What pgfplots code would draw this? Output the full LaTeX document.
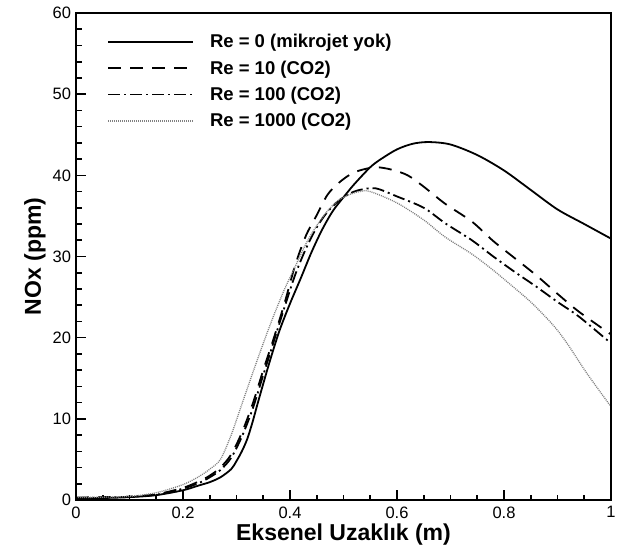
\documentclass[border=0pt]{standalone}
\usepackage{fontspec}
\setmainfont{Liberation Sans}
\usepackage{pgfplots}
\pgfplotsset{compat=1.18}

\begin{document}
\begin{tikzpicture}
\begin{axis}[
    scale only axis,
    width=535pt, height=487pt,
    xmin=0, xmax=1, ymin=0, ymax=60,
    clip=false,
    xtick={0,0.2,0.4,0.6,0.8,1},
    xticklabels={0,0.2,0.4,0.6,0.8,1},
    ytick={0,10,20,30,40,50,60},
    minor x tick num=3,
    minor y tick num=4,
    tick pos=left,
    major tick length=10pt,
    minor tick length=5.5pt,
    tick style={black, line width=1.6pt},
    /pgf/number format/assume math mode=true,
    tick label style={font=\fontsize{16.5}{19}\selectfont},
    xticklabel style={yshift=-3pt},
    yticklabel style={xshift=-1.5pt},
    xlabel={\bfseries Eksenel Uzaklık (m)},
    ylabel={\bfseries NOx (ppm)},
    every axis x label/.style={at={(axis description cs:0.5,0)}, anchor=base, yshift=-40.5pt, font=\fontsize{23}{27}\selectfont},
    ylabel style={font=\fontsize{23}{27}\selectfont},
    legend cell align=left,
    legend image code/.code={\draw[#1] (0pt,0pt) -- (85pt,0pt);},
    legend style={draw=none, fill=none, at={(0,1)}, anchor=north west,
        xshift=31pt, yshift=-20pt, inner sep=0pt,
        font=\bfseries\fontsize{18.5}{22}\selectfont,
        row sep=9.5pt, column sep=15pt, nodes={inner sep=1pt}},
]
% Re = 0
\addplot[black, line width=1.8pt, smooth] coordinates {
(0,0.2) (0.05,0.25) (0.1,0.35) (0.15,0.6) (0.2,1.2) (0.23,1.8) (0.25,2.2)
(0.27,2.8) (0.29,3.8) (0.30,4.8) (0.31,6.0) (0.32,7.5) (0.33,9.6) (0.34,12.0)
(0.36,16.6) (0.38,20.8) (0.40,24.2) (0.42,27.3) (0.44,30.5) (0.46,33.3)
(0.48,35.6) (0.50,37.3) (0.52,38.9) (0.55,41.0) (0.57,42.0) (0.6,43.2) (0.63,43.9)
(0.66,44.1) (0.7,43.8) (0.75,42.5) (0.8,40.6) (0.85,38.2) (0.9,35.8)
(0.95,34.0) (1.0,32.2)
};
% Re = 10
\addplot[black, line width=1.8pt, dash pattern=on 13pt off 9pt, smooth] coordinates {
(0,0.3) (0.05,0.35) (0.1,0.4) (0.15,0.7) (0.2,1.5) (0.23,2.3) (0.25,3.0)
(0.27,4.0) (0.29,5.6) (0.31,8.3) (0.33,11.8) (0.35,16.0) (0.37,20.0)
(0.39,24.3) (0.41,29.0) (0.43,32.6) (0.45,35.1) (0.47,37.6) (0.49,39.0)
(0.51,40.0) (0.53,40.6) (0.56,41.0) (0.59,40.7) (0.62,40.0) (0.65,38.6)
(0.69,36.5) (0.74,34.3) (0.78,31.9) (0.82,29.8) (0.86,27.7) (0.9,25.4)
(0.94,23.2) (1.0,20.4)
};
% Re = 100
\addplot[black, line width=1.8pt, dash pattern=on 12pt off 4pt on 2pt off 4pt, smooth] coordinates {
(0,0.25) (0.05,0.3) (0.1,0.4) (0.15,0.65) (0.2,1.4) (0.23,2.1) (0.25,2.8)
(0.27,3.7) (0.29,5.2) (0.31,7.8) (0.33,11.2) (0.35,15.4) (0.37,19.6)
(0.39,23.8) (0.41,27.8) (0.43,31.0) (0.45,33.6) (0.47,35.5) (0.49,36.8)
(0.51,37.7) (0.53,38.2) (0.56,38.4) (0.6,37.4) (0.65,36.0) (0.69,34.1)
(0.74,32.0) (0.78,30.0) (0.82,28.1) (0.86,26.3) (0.9,24.4) (0.94,22.6)
(1.0,19.3)
};
% Re = 1000
\addplot[gray, line width=1.3pt, dash pattern=on 1pt off 1pt, smooth] coordinates {
(0,0.3) (0.05,0.35) (0.1,0.45) (0.15,0.9) (0.2,1.9) (0.23,2.9) (0.25,3.8)
(0.27,5.0) (0.29,8.0) (0.31,11.8) (0.33,15.6) (0.35,19.3) (0.37,22.8)
(0.39,26.0) (0.41,28.8) (0.43,31.6) (0.45,33.8) (0.47,35.6) (0.49,36.9)
(0.51,37.6) (0.53,38.0) (0.55,38.0) (0.6,36.6) (0.65,34.5) (0.69,32.4)
(0.74,30.3) (0.78,28.3) (0.82,26.1) (0.85,24.4) (0.88,22.4) (0.9,20.9)
(0.92,19.1) (0.955,15.6) (1.0,11.5)
};
\legend{Re = 0 (mikrojet yok), Re = 10 (CO2), Re = 100 (CO2), Re = 1000 (CO2)}
% heavy frame
\draw[black, line width=2.6pt] (rel axis cs:0,0) rectangle (rel axis cs:1,1);
\coordinate (bl) at (rel axis cs:0,0);
\coordinate (tr) at (rel axis cs:1,1);
\end{axis}
\pgfresetboundingbox
\path ([shift={(-76pt,-49pt)}]bl) rectangle ([shift={(6pt,13pt)}]tr);
\end{tikzpicture}
\end{document}
